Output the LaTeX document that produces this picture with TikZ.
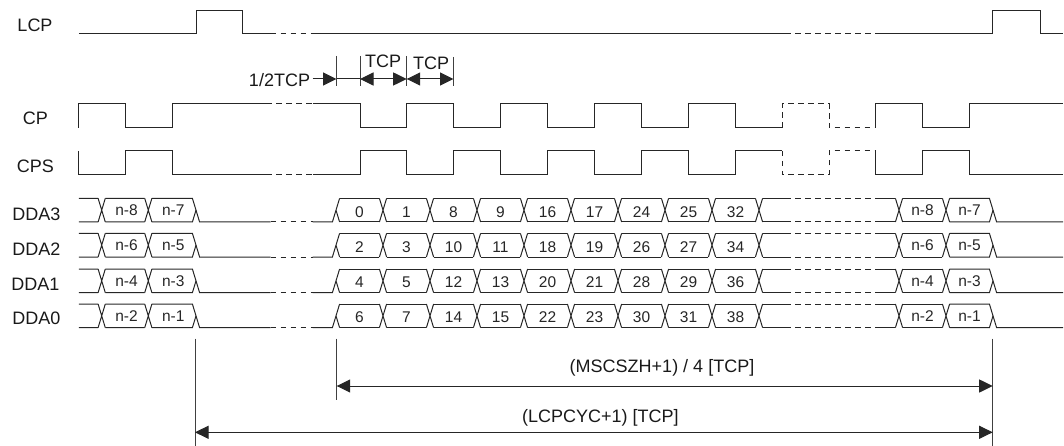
\documentclass[tikz,border=0pt]{standalone}
\usepackage{fontspec}
\setmainfont{Liberation Sans}
\usetikzlibrary{arrows.meta}
\tikzset{
  wave/.style={line width=1pt,draw=black!85,line join=miter},
  dashwave/.style={wave,dash pattern=on 5.5pt off 4.5pt},
  sig/.style={font=\fontsize{18}{20}\selectfont,inner sep=0pt,anchor=center,text=black!90},
  cell/.style={font=\fontsize{15.5}{18}\selectfont,inner sep=0pt,anchor=center,text=black!85},
  dim/.style={line width=1pt,draw=black!85},
  tick/.style={line width=1pt,draw=black!75},
  dimarrow/.style={dim,{Triangle[length=13.5pt,width=13pt]}-{Triangle[length=13.5pt,width=13pt]}},
  endarrow/.style={dim,-{Triangle[length=13.5pt,width=13pt]}}
}
\newcommand{\xing}[3]{\draw[wave] (#1-3.6,#2)--(#1+3.6,#3) (#1-3.6,#3)--(#1+3.6,#2);}
% #1 row name, #2 high level, #3 #4 end labels, #5 nine data labels
\newcommand{\datarow}[5]{%
  \pgfmathsetmacro{\yh}{#2}\pgfmathsetmacro{\yl}{#2+23.7}\pgfmathsetmacro{\ym}{#2+11.85}
  \draw[wave] (78.8,\yh)--(98.1,\yh) (105.3,\yh)--(144.7,\yh) (151.9,\yh)--(192.4,\yh)--(199.6,\yl)--(270.5,\yl);
  \draw[wave] (78.8,\yl)--(98.1,\yl) (105.3,\yl)--(144.7,\yl) (151.9,\yl)--(192.4,\yl)--(196,\ym);
  \xing{101.7}{\yh}{\yl}\xing{148.3}{\yh}{\yl}
  \node[cell] (#1a) at (126.5,\ym+0.3) {#3};
  \node[cell] (#1b) at (173.3,\ym+0.3) {#4};
  \draw[dashwave] (270.5,\yl)--(312.7,\yl);
  \draw[wave] (312.7,\yl)--(332.4,\yl)--(339.6,\yh) (336,\ym)--(339.6,\yl);
  \foreach \t [count=\i] in {#5} {
    \pgfmathsetmacro{\xa}{336+47*(\i-1)+3.6}
    \pgfmathsetmacro{\xb}{336+47*\i-3.6}
    \pgfmathsetmacro{\xc}{336+47*\i}
    \pgfmathsetmacro{\xd}{336+47*\i-23.5}
    \draw[wave] (\xa,\yh)--(\xb,\yh) (\xa,\yl)--(\xb,\yl);
    \xing{\xc}{\yh}{\yl}
    \node[cell] (#1d\i) at (\xd,\ym+1.6) {\t};
  }
  \draw[wave] (762.6,\yh)--(785.4,\yh) (762.6,\yl)--(785.4,\yl);
  \draw[dashwave] (785.4,\yh)--(875.7,\yh) (785.4,\yl)--(875.7,\yl);
  \draw[wave] (875.7,\yh)--(895.4,\yh) (875.7,\yl)--(895.4,\yl);
  \xing{899}{\yh}{\yl}\xing{946}{\yh}{\yl}
  \draw[wave] (902.6,\yh)--(942.4,\yh) (902.6,\yl)--(942.4,\yl);
  \draw[wave] (949.6,\yh)--(989.4,\yh)--(996.6,\yl)--(1063,\yl);
  \draw[wave] (949.6,\yl)--(989.4,\yl)--(993,\ym);
  \node[cell] (#1c) at (922.5,\ym+0.3) {#3};
  \node[cell] (#1e) at (969.5,\ym+0.3) {#4};
}
\begin{document}
\begin{tikzpicture}[x=1pt,y=-1pt]
\useasboundingbox (0,0) rectangle (1064,446);
\node[sig] (lcp) at (35,25) {LCP};
\node[sig] (cp) at (35.5,118.3) {CP};
\node[sig] (cps) at (35.5,166) {CPS};
\node[sig] (dda3) at (36.5,214) {DDA3};
\node[sig] (dda2) at (36.5,249.3) {DDA2};
\node[sig] (dda1) at (35.5,284) {DDA1};
\node[sig] (dda0) at (36.5,318.5) {DDA0};
% LCP
\draw[wave] (78.8,34)--(196,34)--(196,10.7)--(242.7,10.7)--(242.7,34)--(270.5,34);
\draw[dashwave] (270.5,34)--(312.7,34);
\draw[wave] (312.7,34)--(785.4,34);
\draw[dashwave] (785.4,34)--(875.7,34);
\draw[wave] (875.7,34)--(992.7,34)--(992.7,10.7)--(1040,10.7)--(1040,34)--(1063,34);
% CP
\draw[wave] (78.8,127.7)--(78.8,104)--(125.7,104)--(125.7,127.7)--(172.7,127.7)--(172.7,104)--(266,104);
\draw[dashwave] (266,104)--(312.7,104);
\draw[wave] (312.7,104)--(360,104)--(360,127.7)--(406.7,127.7)--(406.7,104)--(453.5,104)--(453.5,127.7)--(500.7,127.7)--(500.7,104)--(547.7,104)--(547.7,127.7)--(594.4,127.7)--(594.4,104)--(641.4,104)--(641.4,127.7)--(688,127.7)--(688,104)--(735.4,104)--(735.4,127.7)--(782,127.7);
\draw[dashwave] (782,127.7)--(782,104)--(829,104)--(829,127.7)--(875.7,127.7);
\draw[wave] (875.7,127.7)--(875.7,104)--(922.7,104)--(922.7,127.7)--(969.7,127.7)--(969.7,104)--(1063,104);
% CPS
\draw[wave] (78.8,151)--(78.8,174.7)--(125.7,174.7)--(125.7,151)--(172.7,151)--(172.7,174.7)--(266,174.7);
\draw[dashwave] (266,174.7)--(312.7,174.7);
\draw[wave] (312.7,174.7)--(360,174.7)--(360,151)--(406.7,151)--(406.7,174.7)--(453.5,174.7)--(453.5,151)--(500.7,151)--(500.7,174.7)--(547.7,174.7)--(547.7,151)--(594.4,151)--(594.4,174.7)--(641.4,174.7)--(641.4,151)--(688,151)--(688,174.7)--(735.4,174.7)--(735.4,151)--(782,151);
\draw[dashwave] (782,151)--(782,174.7)--(829,174.7)--(829,151)--(875.7,151);
\draw[wave] (875.7,151)--(875.7,174.7)--(922.7,174.7)--(922.7,151)--(969.7,151)--(969.7,174.7)--(1063,174.7);
% data
\datarow{r3}{198.3}{n-8}{n-7}{0,1,8,9,16,17,24,25,32}
\datarow{r2}{233.3}{n-6}{n-5}{2,3,10,11,18,19,26,27,34}
\datarow{r1}{269}{n-4}{n-3}{4,5,12,13,20,21,28,29,36}
\datarow{r0}{304}{n-2}{n-1}{6,7,14,15,22,23,30,31,38}
% TCP dimensions
\coordinate (t0a) at (336.5,56); \coordinate (t0b) at (336.5,86);
\coordinate (t1a) at (360,56); \coordinate (t1b) at (360,86);
\coordinate (t2a) at (406.7,56); \coordinate (t2b) at (406.7,86);
\coordinate (t3a) at (453.5,57); \coordinate (t3b) at (453.5,86);
\draw[tick] (t0a)--(t0b) (t1a)--(t1b) (t2a)--(t2b) (t3a)--(t3b);
\node[sig] (half) at (279.5,80.5) {1/2TCP};
\coordinate (h0) at (336.5,79);
\coordinate (h1) at (360,79);
\coordinate (h2) at (406.7,79);
\coordinate (h3) at (453.5,79);
\coordinate (hs) at (312.5,79);
\draw[endarrow] (hs)--(h0);
\draw[dim] (h0)--(h1);
\draw[dimarrow] (h1)--(h2);
\draw[dimarrow] (h2)--(h3);
\node[sig] (tcpa) at (383,61.7) {TCP};
\node[sig] (tcpb) at (431,63.3) {TCP};
% bottom dimensions
\coordinate (v1a) at (195,338.5); \coordinate (v1b) at (195,446);
\coordinate (v2a) at (336.7,338.5); \coordinate (v2b) at (336.7,400);
\coordinate (v3a) at (992.7,338.5); \coordinate (v3b) at (992.7,446);
\draw[tick] (v1a)--(v1b) (v2a)--(v2b) (v3a)--(v3b);
\coordinate (a1) at (336.7,386); \coordinate (b1) at (992.7,386);
\coordinate (a2) at (195,432.3); \coordinate (b2) at (992.7,432.3);
\draw[dimarrow] (a1)--(b1);
\draw[dimarrow] (a2)--(b2);
\node[sig] (m1) at (662,367.5) {(MSCSZH+1) / 4 [TCP]};
\node[sig] (m2) at (600.4,418) {(LCPCYC+1) [TCP]};
\end{tikzpicture}
\end{document}
